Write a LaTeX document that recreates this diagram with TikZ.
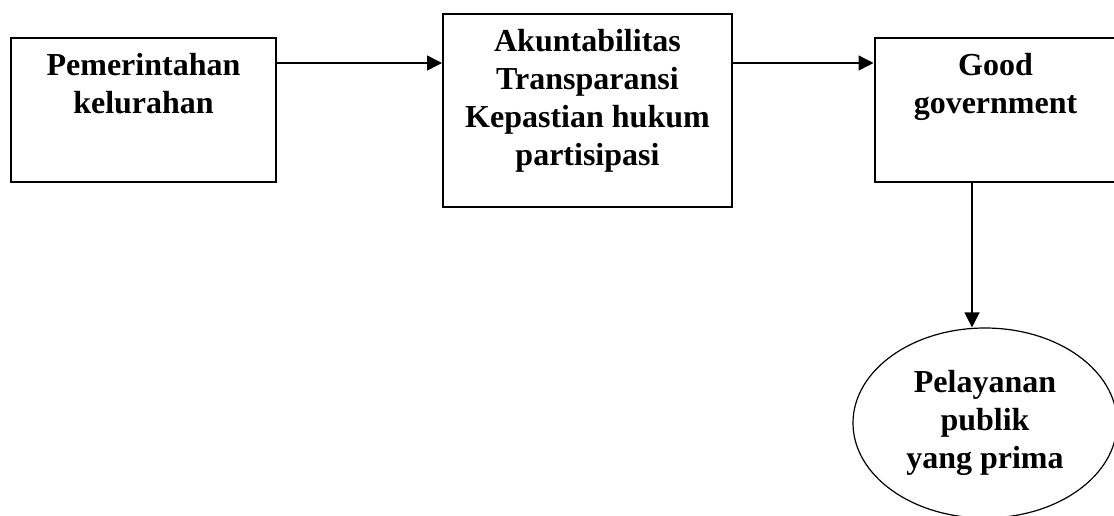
\documentclass[tikz,border=0pt]{standalone}
\usepackage{fontspec}
\setmainfont{Liberation Serif}
\usetikzlibrary{positioning,shapes.geometric,arrows.meta}

\tikzset{
  kotak/.style={draw,line width=1pt,rectangle,inner sep=0pt},
  teks/.style={font=\fontsize{16}{19}\selectfont\bfseries,align=center,inner sep=0pt},
  panah/.style={line width=0.7pt,-{Triangle[length=7.5pt,width=7.5pt]}}
}

\begin{document}
\begin{tikzpicture}[x=0.5pt,y=-0.5pt]
\useasboundingbox (0,0) rectangle (1114,515);
\clip (0,0) rectangle (1114,515);

\coordinate (baris) at (0,63);
\coordinate (kolom) at (972,0);

\node[kotak,minimum width=132.5pt,minimum height=72pt] (pem) at (143.5,110) {};
\node[kotak,minimum width=144.5pt,minimum height=96.5pt] (akt) at (587.5,110.5) {};
\node[kotak,minimum width=121pt,minimum height=72pt] (gg) at (995.5,110) {};
\node[ellipse,draw,line width=0.6pt,teks,minimum width=132pt,minimum height=95pt] (ply) at (985,423) {Pelayanan\\publik\\yang prima};

\node[teks,below=8pt of pem.north] (pemtxt) {Pemerintahan\\kelurahan};
\node[teks,below=8pt of akt.north] (akttxt) {Akuntabilitas\\Transparansi\\Kepastian hukum\\partisipasi};
\node[teks,below=8pt of gg.north] (ggtxt) {Good\\government};

\draw[panah] (pem.east |- baris) -- (akt.west |- baris);
\draw[panah] (akt.east |- baris) -- (gg.west |- baris);
\draw[panah] (kolom |- gg.south) -- (kolom |- ply.north);
\end{tikzpicture}
\end{document}
